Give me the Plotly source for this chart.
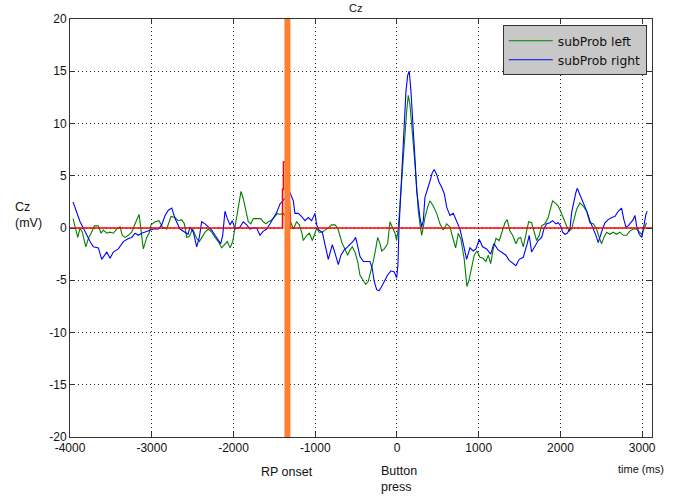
import plotly.graph_objects as go

# ---------------- data ----------------
time_left = [-3963, -3938, -3905, -3877, -3849, -3807, -3775, -3742, -3702, -3653, -3620, -3592, -3550, -3510,
             -3470, -3428, -3388, -3360, -3327, -3286, -3245, -3204, -3155, -3131, -3103, -3061, -3033, -3009,
             -2960, -2911, -2870, -2817, -2764, -2715, -2675, -2633, -2601, -2572, -2540, -2499, -2450, -2418,
             -2389, -2348, -2308, -2266, -2226, -2186, -2144, -2104, -2075, -2042, -2009, -1981, -1953, -1929,
             -1908, -1880, -1847, -1819, -1789, -1757, -1709, -1667, -1635, -1602, -1574, -1545, -1504, -1464,
             -1431, -1391, -1345, -1296, -1268, -1227, -1195, -1166, -1146, -1104, -1070, -1036, -1003, -982,
             -954, -914, -881, -840, -799, -758, -725, -697, -669, -636, -603, -575, -547, -514, -481, -453,
             -412, -383, -351, -318, -290, -260, -236, -208, -187, -155, -114, -86, -57, -24, -4, 16, 37, 57,
             77, 98, 119, 138, 159, 180, 199, 220, 241, 260, 281, 302, 322, 342, 375, 404, 444, 486, 526, 566,
             608, 648, 689, 718, 750, 783, 823, 856, 881, 914, 945, 978, 1015, 1052, 1088, 1117, 1146, 1178,
             1211, 1251, 1293, 1321, 1349, 1382, 1415, 1455, 1484, 1513, 1545, 1578, 1611, 1647, 1676, 1709,
             1740, 1770, 1810, 1850, 1880, 1904, 1936, 1973, 2002, 2042, 2075, 2107, 2137, 2165, 2198, 2238,
             2278, 2320, 2360, 2401, 2442, 2474, 2503, 2532, 2565, 2605, 2645, 2687, 2727, 2768, 2809, 2850,
             2890, 2932, 2963, 2993, 3021, 3054]
sub_prob_left = [0.9, 0.1, -0.9, 0.0, -0.4, -1.8, -1.0, -0.5, 0.2, 0.2, -0.5, -0.2, -0.5, -0.4,
                 -0.5, -0.1, 0.1, -0.7, -0.9, -0.7, -0.4, 0.4, 1.3, -0.2, -2.0, -0.9, -0.5, 0.3,
                 0.6, 0.7, 0.1, -0.1, 1.1, 1.0, 0.7, 0.8, 0.4, -0.9, -0.8, -0.1, -1.0, -1.3,
                 -0.9, -0.4, -0.1, -0.4, -0.9, -1.3, -1.9, -1.6, -1.3, -1.9, -1.3, 0.1, 1.4, 2.3,
                 3.5, 2.8, 1.5, 0.6, 0.4, 0.9, 0.9, 0.9, 0.6, 0.4, 0.6, 0.7, 1.0, 1.4,
                 1.3, 1.4, 1.0, 0.5, -0.1, 0.6, 0.3, -0.4, -1.2, -0.7, -0.5, -1.2, -0.5, 0.0,
                 -0.4, -0.4, -0.2, 0.0, 0.3, 0.3, 0.0, -0.9, -1.5, -2.0, -2.6, -2.1, -1.8, -2.3, -3.2, -4.5,
                 -5.1, -5.4, -5.1, -4.2, -3.2, -2.0, -0.9, -1.5, -2.2, -2.0, -1.5, 0.6, 0.1, -0.5, -1.2, 0.0, 2.3, 4.5,
                 7.0, 9.6, 11.2, 12.7, 11.8, 9.9, 8.3, 6.1, 3.9, 1.7, 0.4, -0.7, 0.1, 1.0, 2.0, 2.6, 2.1, 1.4, 0.4, -0.2,
                 0.4, 0.1, -1.1, -1.9, -0.5, -1.1, -3.0, -5.6, -5.0, -3.6, -2.6, -2.2, -2.8, -2.9, -3.2, -2.6, -3.4, -2.0,
                 -1.0, -1.2, -0.1, 0.5, 0.8, -0.3, -0.7, -1.5, -1.0, -0.9, -1.8, -0.6, 0.6, 0.5, -0.3, -1.2,
                 -0.7, 0.2, 0.4, 1.0, 1.9, 2.6, 2.4, 2.1, 1.6, 0.8, 0.2, -0.3, -0.1, 0.8, 1.8, 2.4,
                 2.1, 1.6, 0.5, 0.4, -0.1, -0.9, -1.5, -0.9, -0.4, -0.6, -0.4, -0.6, -0.4, -0.7, -0.7, -0.3,
                 -0.1, -0.1, -0.4, -0.6, -0.1, 0.5]

time_right = [-3963, -3917, -3877, -3837, -3795, -3755, -3714, -3653, -3612, -3580, -3550, -3510, -3470, -3409,
              -3347, -3286, -3245, -3204, -3164, -3122, -3082, -3021, -2980, -2919, -2878, -2837, -2797, -2755,
              -2715, -2654, -2601, -2556, -2532, -2491, -2450, -2418, -2389, -2348, -2308, -2266, -2226, -2186,
              -2156, -2132, -2104, -2075, -2042, -2014, -1981, -1953, -1920, -1880, -1838, -1798, -1757, -1716,
              -1676, -1635, -1594, -1553, -1513, -1471, -1431, -1398, -1358, -1309, -1268, -1248, -1207, -1166,
              -1126, -1085, -1044, -1003, -982, -954, -914, -890, -860, -840, -819, -791, -758, -718, -685, -645,
              -603, -563, -530, -505, -481, -453, -412, -371, -330, -302, -278, -248, -220, -187, -155, -114,
              -73, -33, -4, 12, 24, 37, 57, 77, 98, 110, 131, 150, 171, 199, 220, 241, 260, 281, 302, 322, 342,
              375, 404, 432, 456, 486, 514, 547, 578, 608, 648, 689, 730, 771, 811, 852, 893, 933, 966, 1007,
              1048, 1097, 1146, 1186, 1239, 1280, 1333, 1373, 1415, 1455, 1496, 1545, 1594, 1618, 1647, 1688,
              1728, 1770, 1798, 1831, 1871, 1904, 1945, 1973, 2002, 2027, 2055, 2083, 2116, 2137, 2165, 2189,
              2205, 2238, 2271, 2299, 2328, 2360, 2393, 2434, 2462, 2491, 2515, 2544, 2584, 2626, 2666, 2707,
              2748, 2776, 2801, 2829, 2858, 2890, 2911, 2932, 2963, 2996, 3021, 3045, 3061]
sub_prob_right = [2.5, 1.5, 0.6, 0.0, -0.7, -1.3, -1.8, -1.9, -3.0, -2.6, -2.3, -2.9, -2.3, -2.0,
                  -1.3, -1.0, -0.9, -0.5, -0.7, -0.5, -0.4, -0.2, -0.1, -0.1, 0.3, 1.2, 1.7, 1.9,
                  0.9, -0.1, -0.4, -0.6, 0.1, -0.4, -1.8, -0.9, 0.6, 0.4, 0.1, -0.2, -0.7, -1.2,
                  -1.5, -0.7, 1.6, 0.9, 0.3, 0.7, -0.1, 0.0, 0.1, 0.6, 0.3, -0.1, 0.0, 0.0,
                  -0.7, -0.3, -0.1, 0.4, 0.9, 1.5, 2.3, 2.6, 3.0, 3.4, 2.6, 1.4, 1.4, 1.1,
                  0.7, 1.0, 0.7, 1.4, 0.3, -0.2, -0.4, -1.3, -2.3, -3.0, -2.4, -1.6, -2.4, -3.5, -2.6, -2.1,
                  -1.8, -1.5, -1.2, -0.9, -1.8, -2.7, -3.2, -3.2, -3.2, -3.9, -5.1, -5.9, -6.0, -5.6, -5.1, -4.5,
                  -4.1, -4.2, -4.8, -3.5, -0.2, 2.0, 4.2, 8.0, 10.8, 13.1, 14.6, 15.0, 13.1, 9.9, 6.7, 3.6, 2.0, 1.0, 0.1, 0.7, 2.9,
                  3.9, 4.5, 5.3, 5.6, 5.1, 4.4, 3.9, 3.3, 2.0, 1.2, 1.4, 0.7, -0.1, -1.5, -3.0, -1.9, -2.2, -2.0, -1.1,
                  -1.8, -2.0, -2.5, -1.5, -2.1, -2.3, -2.6, -3.1, -3.4, -3.6, -3.0, -2.8, -1.5, -0.7, -2.3, -1.7,
                  -1.2, -0.9, -0.1, 0.4, 0.5, 0.7, 0.4, 0.5, 0.2, -0.4, -0.6, -0.5, -0.1, 1.5, 2.6, 3.4,
                  3.8, 3.2, 2.7, 2.1, 1.5, 0.7, 0.1, -0.7, -1.4, -0.6, -0.1, 0.5, 0.8, 1.0, 1.1, 1.6,
                  1.9, 0.8, 0.1, 0.2, 0.5, 0.8, 1.2, 0.2, -0.6, -0.9, 0.2, 1.3, 1.6]

marker_time = [-4000, -1400, -1400, -1388, -1388, -1350, -1305, -1305, 3120]
marker_value = [0, 0, 3.7, 3.7, 6.3, 6.3, 1.2, 0, 0]

rp_onset_ms = -1340
button_press_ms = 0
x_range = [-4000, 3120]
y_range = [-20, 20]
x_ticks = [-4000, -3000, -2000, -1000, 0, 1000, 2000, 3000]
y_ticks = [-20, -15, -10, -5, 0, 5, 10, 15, 20]

FONT = "Liberation Sans, Arial, sans-serif"

fig = go.Figure()
fig.add_trace(go.Scatter(x=time_left, y=sub_prob_left, mode="lines", name="subProb left",
                         line=dict(color="#008000", width=1.1)))
fig.add_trace(go.Scatter(x=time_right, y=sub_prob_right, mode="lines", name="subProb right",
                         line=dict(color="#0000FF", width=1.1)))
fig.add_trace(go.Scatter(x=marker_time, y=marker_value, mode="lines", showlegend=False,
                         line=dict(color="#FF0000", width=1.6)))
fig.add_trace(go.Scatter(x=[rp_onset_ms, rp_onset_ms], y=y_range, mode="lines", showlegend=False,
                         line=dict(color="#FF8032", width=6)))

axis_common = dict(showline=True, linecolor="#333333", linewidth=1, mirror="ticks",
                   ticks="inside", ticklen=5, tickcolor="#333333",
                   showgrid=True, gridcolor="#222222", gridwidth=1, griddash="1px,3px",
                   zeroline=False, tickfont=dict(family=FONT, size=12, color="#111111"))

fig.update_xaxes(range=x_range, tickvals=x_ticks, ticktext=[str(v) for v in x_ticks], **axis_common)
fig.update_yaxes(range=y_range, tickvals=y_ticks, ticktext=[str(v) for v in y_ticks], **axis_common)

fig.update_layout(
    width=673, height=498,
    margin=dict(l=70, r=21, t=15, b=61),
    paper_bgcolor="white", plot_bgcolor="white",
    font=dict(family=FONT, size=12, color="#111111"),
    showlegend=True,
    legend=dict(x=0.991, y=0.985, xanchor="right", yanchor="top",
                bgcolor="#C8C8C8", bordercolor="#333333", borderwidth=1,
                font=dict(family="DejaVu Sans, sans-serif", size=12.3, color="#111111"),
                tracegroupgap=0, itemwidth=44),
    annotations=[
        dict(text="Cz", xref="paper", yref="paper", x=0.49, y=1.0, yanchor="bottom",
             showarrow=False, font=dict(size=11), yshift=3),
        dict(text="Cz<br>(mV)", xref="paper", yref="y", x=-0.098, y=1.2, xanchor="left",
             align="left", showarrow=False, font=dict(size=12.5)),
        dict(text="RP onset", xref="x", yref="paper", x=rp_onset_ms, y=0, yanchor="top",
             yshift=-26, showarrow=False, font=dict(size=12.5)),
        dict(text="Button<br>press", xref="x", yref="paper", x=button_press_ms, y=0, yanchor="top",
             xanchor="center", align="left", yshift=-25, xshift=2, showarrow=False, font=dict(size=12.5)),
        dict(text="time (ms)", xref="paper", yref="paper", x=1.0, y=0, yanchor="top", xanchor="center",
             xshift=-11, yshift=-24, showarrow=False, font=dict(size=11)),
    ],
)

fig.write_html("out.html")
